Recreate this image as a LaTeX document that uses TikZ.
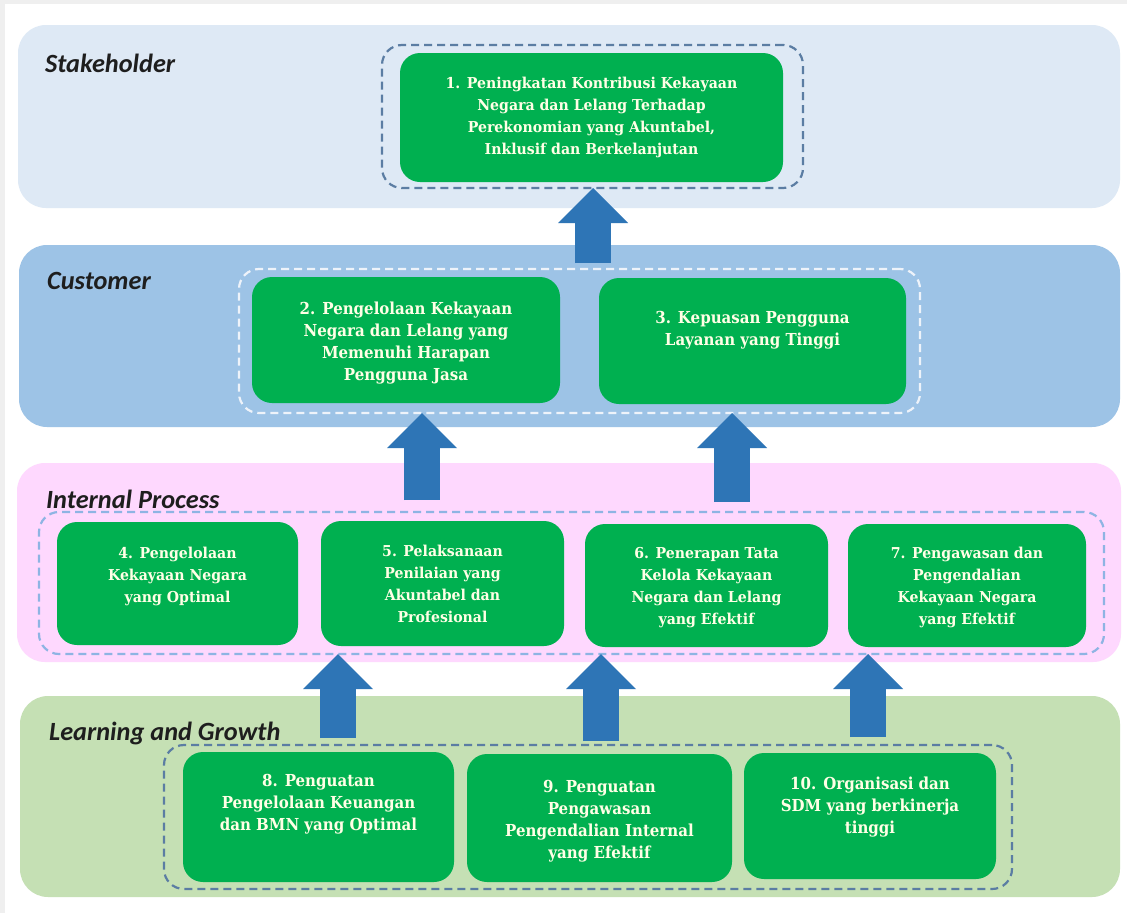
\documentclass[tikz,border=0pt]{standalone}
\usepackage{fontspec}
\usepackage{xcolor}
\usepackage{tikz}
\usetikzlibrary{arrows.meta, positioning}
\newfontfamily\perspfont{Carlito}
\newfontfamily\goalfont{DejaVu Serif}[FakeStretch=0.94]
\newfontfamily\goalnarrowfont{DejaVu Serif}[FakeStretch=0.91]
\definecolor{FrameGray}{HTML}{EFEFEF}
\definecolor{StakeBlue}{HTML}{DEE9F5}
\definecolor{CustBlue}{HTML}{9DC3E6}
\definecolor{ProcPink}{HTML}{FED8FE}
\definecolor{LearnGreen}{HTML}{C5E0B4}
\definecolor{GoalGreen}{HTML}{00B050}
\definecolor{GoalText}{HTML}{FFFFE6}
\definecolor{ArrowBlue}{HTML}{2E75B6}
\definecolor{Ink}{HTML}{1E1E1E}
\definecolor{DashSlate}{HTML}{5B7DA3}
\definecolor{DashWhite}{HTML}{EEF3FA}
\definecolor{DashSky}{HTML}{8EB4E3}
\tikzset{
  band/.style={rounded corners=28pt, inner sep=0pt, outer sep=0pt},
  persp/.style={anchor=base west, inner sep=0pt, color=Ink, font=\perspfont\fontsize{26.3}{31}\selectfont\bfseries\itshape},
  group/.style={dash pattern=on 8pt off 5pt, line width=2.2pt, rounded corners=20pt, inner sep=0pt, outer sep=0pt},
  goal/.style={fill=GoalGreen, rounded corners=20pt, inner sep=0pt, outer sep=0pt},
  goaltext/.style={align=center, inner sep=0pt, color=GoalText, font=\goalfont\bfseries\fontsize{15}{22}\selectfont},
  goalnarrow/.style={goaltext, font=\goalnarrowfont\bfseries\fontsize{16.5}{22}\selectfont},
  uparrow/.style={draw=ArrowBlue, line width=36pt, -{Triangle[length=35pt, width=70pt, line width=0pt]}},
}
\begin{document}
\begin{tikzpicture}[x=1pt, y=-1pt]
  \useasboundingbox (0,0) rectangle (1127,913);
  \fill[FrameGray] (0,0) rectangle (1127,913);
  \fill[white] (5,4) rectangle (1127,913);

  % Perspective bands
  \node[band, fill=StakeBlue, minimum width=1102pt, minimum height=183pt] (stake) at (569,116.5) {};
  \node[band, fill=CustBlue, minimum width=1101pt, minimum height=182pt] (cust) at (569.5,336) {};
  \node[band, fill=ProcPink, minimum width=1104pt, minimum height=199pt] (intp) at (569,562.5) {};
  \node[band, fill=LearnGreen, minimum width=1100pt, minimum height=201pt] (learn) at (570,796.5) {};

  \node[persp] (lstake) at (45,72) {Stakeholder};
  \node[persp] (lcust) at (47,289) {Customer};
  \node[persp] (lintp) at (46,508) {Internal Process};
  \node[persp] (llearn) at (49,740) {Learning and Growth};

  % Dashed groups
  \node[group, draw=DashSlate, minimum width=421pt, minimum height=143pt] (grp1) at (592.5,116.5) {};
  \node[group, draw=DashWhite, minimum width=681pt, minimum height=144pt] (grp2) at (579.5,341) {};
  \node[group, draw=DashSky, minimum width=1065pt, minimum height=142pt] (grp3) at (571.5,583) {};
  \node[group, draw=DashSlate, minimum width=848pt, minimum height=144pt] (grp4) at (588,817) {};

  % Goals
  \node[goal, minimum width=383pt, minimum height=129pt] (g1) at (591.5,117.5) {};
  \node[goaltext, below=24pt of g1.north] (t1) {1. Peningkatan Kontribusi Kekayaan\\Negara dan Lelang Terhadap\\Perekonomian yang Akuntabel,\\Inklusif dan Berkelanjutan};

  \node[goal, minimum width=308pt, minimum height=126pt] (g2) at (406,340) {};
  \node[goalnarrow, below=25pt of g2.north] (t2) {2. Pengelolaan Kekayaan\\Negara dan Lelang yang\\Memenuhi Harapan\\Pengguna Jasa};
  \node[goal, minimum width=307pt, minimum height=126pt] (g3) at (752.5,341) {};
  \node[goalnarrow, below=33pt of g3.north] (t3) {3. Kepuasan Pengguna\\Layanan yang Tinggi};

  \node[goal, minimum width=241pt, minimum height=123pt] (g4) at (177.5,583.5) {};
  \node[goaltext, below=25pt of g4.north] (t4) {4. Pengelolaan\\Kekayaan Negara\\yang Optimal};
  \node[goal, minimum width=243pt, minimum height=125pt] (g5) at (442.5,583.5) {};
  \node[goaltext, below=24pt of g5.north] (t5) {5. Pelaksanaan\\Penilaian yang\\Akuntabel dan\\Profesional};
  \node[goal, minimum width=243pt, minimum height=123pt] (g6) at (706.5,585.5) {};
  \node[goaltext, below=23pt of g6.north] (t6) {6. Penerapan Tata\\Kelola Kekayaan\\Negara dan Lelang\\yang Efektif};
  \node[goal, minimum width=238pt, minimum height=123pt] (g7) at (967,585.5) {};
  \node[goaltext, below=23pt of g7.north] (t7) {7. Pengawasan dan\\Pengendalian\\Kekayaan Negara\\yang Efektif};

  \node[goal, minimum width=271pt, minimum height=130pt] (g8) at (318.5,817) {};
  \node[goalnarrow, below=22pt of g8.north] (t8) {8. Penguatan\\Pengelolaan Keuangan\\dan BMN yang Optimal};
  \node[goal, minimum width=265pt, minimum height=128pt] (g9) at (599.5,818) {};
  \node[goalnarrow, below=26pt of g9.north] (t9) {9. Penguatan\\Pengawasan\\Pengendalian Internal\\yang Efektif};
  \node[goal, minimum width=252pt, minimum height=126pt] (g10) at (870,816) {};
  \node[goalnarrow, below=24pt of g10.north] (t10) {10. Organisasi dan\\SDM yang berkinerja\\tinggi};

  % Arrows between perspectives
  \coordinate (a1) at (593,263);
  \coordinate (a2) at (422,500);
  \coordinate (a3) at (732,502);
  \coordinate (a8) at (338,738);
  \coordinate (a9) at (601,741);
  \coordinate (a10) at (868,737);
  \draw[uparrow] (a1) -- (a1 |- grp1.south);
  \draw[uparrow] (a2) -- (a2 |- grp2.south);
  \draw[uparrow] (a3) -- (a3 |- grp2.south);
  \draw[uparrow] (a8) -- (a8 |- grp3.south);
  \draw[uparrow] (a9) -- (a9 |- grp3.south);
  \draw[uparrow] (a10) -- (a10 |- grp3.south);
\end{tikzpicture}
\end{document}
